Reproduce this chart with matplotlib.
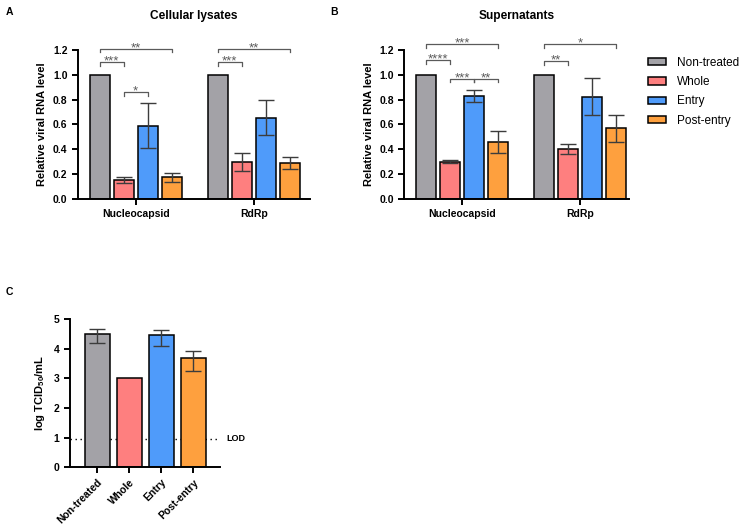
import matplotlib
matplotlib.use("Agg")
import matplotlib.pyplot as plt
import numpy as np
from matplotlib.patches import Patch

plt.rcParams['font.family'] = ['Liberation Sans', 'DejaVu Sans']
plt.rcParams['mathtext.fontset'] = 'custom'
plt.rcParams['mathtext.rm'] = 'Liberation Sans:bold'
plt.rcParams['mathtext.bf'] = 'Liberation Sans:bold'
plt.rcParams['mathtext.it'] = 'Liberation Sans:bold'

# ---------------- data ----------------
treatments = ["Non-treated", "Whole", "Entry", "Post-entry"]
genes = ["Nucleocapsid", "RdRp"]
colors = ["#a3a2a7", "#fe7f7f", "#4f9bfa", "#fea03e"]

# Panel A: cellular lysates (rows = treatment, cols = gene)
lys_mean = [[1.00, 1.00], [0.155, 0.297], [0.59, 0.656], [0.175, 0.292]]
lys_err = [[0.0, 0.0], [0.025, 0.075], [0.18, 0.143], [0.038, 0.05]]

# Panel B: supernatants
sup_mean = [[1.00, 1.00], [0.30, 0.405], [0.83, 0.825], [0.46, 0.57]]
sup_err = [[0.0, 0.0], [0.012, 0.04], [0.05, 0.15], [0.09, 0.11]]

# significance: (gene index, treatment i, treatment j, bracket level, label)
lys_sig = [(0, 0, 1, 1.10, "***"), (0, 0, 3, 1.21, "**"), (0, 1, 2, 0.86, "*"),
           (1, 0, 1, 1.10, "***"), (1, 0, 3, 1.21, "**")]
sup_sig = [(0, 0, 1, 1.12, "****"), (0, 0, 3, 1.25, "***"), (0, 1, 2, 0.97, "***"),
           (0, 2, 3, 0.97, "**"), (1, 0, 1, 1.11, "**"), (1, 0, 3, 1.25, "*")]

# Panel C: titers
tcid_mean = [4.49, 3.02, 4.45, 3.70]
tcid_err_low = [0.29, 0.0, 0.34, 0.45]
tcid_err_high = [0.19, 0.0, 0.20, 0.24]
lod = 0.95

# ---------------- figure ----------------
fig = plt.figure(figsize=(7.5, 5.32), dpi=100)

spine_w = 1.4
err_color = "#3c3c3c"
sig_color = "#5a5a5a"


def style_axes(ax):
    for s in ["top", "right"]:
        ax.spines[s].set_visible(False)
    for s in ["left", "bottom"]:
        ax.spines[s].set_linewidth(spine_w)
    ax.tick_params(axis="both", width=spine_w, length=4, labelsize=7.5)
    for lab in ax.get_yticklabels():
        lab.set_fontweight("bold")


def grouped_panel(ax, mean, err, sig, title, xright):
    step = 0.203
    width = 0.17
    xg = np.arange(len(genes))
    for i, t in enumerate(treatments):
        xs = xg + (i - 1.5) * step
        ax.bar(xs, mean[i], width=width, color=colors[i], edgecolor="black",
               linewidth=1.1, zorder=2)
        e = np.array(err[i])
        m = e > 0
        if m.any():
            ax.errorbar(xs[m], np.array(mean[i])[m], yerr=e[m], fmt="none",
                        ecolor=err_color, elinewidth=1.0, capsize=5.5,
                        capthick=1.0, zorder=3)
    ax.set_xlim(-0.49, xright)
    ax.set_ylim(0, 1.2)
    ax.set_yticks(np.arange(0, 1.21, 0.2))
    ax.set_yticklabels([f"{v:.1f}" for v in np.arange(0, 1.21, 0.2)])
    ax.set_xticks(xg)
    ax.set_xticklabels(genes, fontsize=8, fontweight="bold")
    ax.set_ylabel("Relative viral RNA level", fontsize=8, fontweight="bold",
                  labelpad=4)
    ax.set_title(title, fontsize=8.6, fontweight="bold", pad=22)
    style_axes(ax)
    ax.tick_params(axis="x", pad=3)
    h = 0.03
    for g, i, j, y, lab in sig:
        x1 = g + (i - 1.5) * step
        x2 = g + (j - 1.5) * step
        ax.plot([x1, x1, x2, x2], [y - h, y, y, y - h], color=sig_color,
                lw=0.9, clip_on=False, zorder=4)
        ax.text((x1 + x2) / 2, y - 0.02, lab, ha="center", va="baseline",
                fontsize=9.5, color=sig_color, clip_on=False)


axA = fig.add_axes([0.104, 0.626, 0.309, 0.280])
grouped_panel(axA, lys_mean, lys_err, lys_sig, "Cellular lysates", 1.475)

axB = fig.add_axes([0.539, 0.626, 0.299, 0.280])
grouped_panel(axB, sup_mean, sup_err, sup_sig, "Supernatants", 1.41)

handles = [Patch(facecolor=c, edgecolor="black", linewidth=1.1) for c in colors]
fig.legend(handles, treatments, loc="upper left", bbox_to_anchor=(0.858, 0.902),
           frameon=False, fontsize=8.5, handlelength=1.5, handleheight=0.55,
           labelspacing=0.62, handletextpad=0.9, borderaxespad=0)

# Panel C
axC = fig.add_axes([0.093, 0.122, 0.200, 0.278])
xc = np.arange(len(treatments))
axC.plot([-0.86, 3.83], [lod, lod], color="black", lw=1.0,
         linestyle=(0, (1, 2.6)), zorder=1, clip_on=False)
axC.bar(xc, tcid_mean, width=0.78, color=colors, edgecolor="black",
        linewidth=1.1, zorder=2)
yerr = np.array([tcid_err_low, tcid_err_high])
m = (yerr.sum(axis=0) > 0)
axC.errorbar(xc[m], np.array(tcid_mean)[m], yerr=yerr[:, m], fmt="none",
             ecolor=err_color, elinewidth=1.0, capsize=5.5, capthick=1.0,
             zorder=3)
axC.set_xlim(-0.86, 3.83)
axC.set_ylim(0, 5)
axC.set_yticks(range(6))
axC.set_xticks(xc)
axC.set_xticklabels(treatments, rotation=45, ha="right",
                    rotation_mode="anchor", fontsize=8, fontweight="bold")
axC.set_ylabel(r"log TCID$_{50}$/mL", fontsize=8, fontweight="bold",
               labelpad=5)
style_axes(axC)
axC.text(4.05, lod, "LOD", fontsize=6.5, fontweight="bold", va="center",
         ha="left", clip_on=False)

# panel letters
fig.text(0.007, 0.978, "A", fontsize=7.5, fontweight="bold", va="center")
fig.text(0.44, 0.978, "B", fontsize=7.5, fontweight="bold", va="center")
fig.text(0.007, 0.451, "C", fontsize=7.5, fontweight="bold", va="center")

fig.savefig("out.png", dpi=100)
